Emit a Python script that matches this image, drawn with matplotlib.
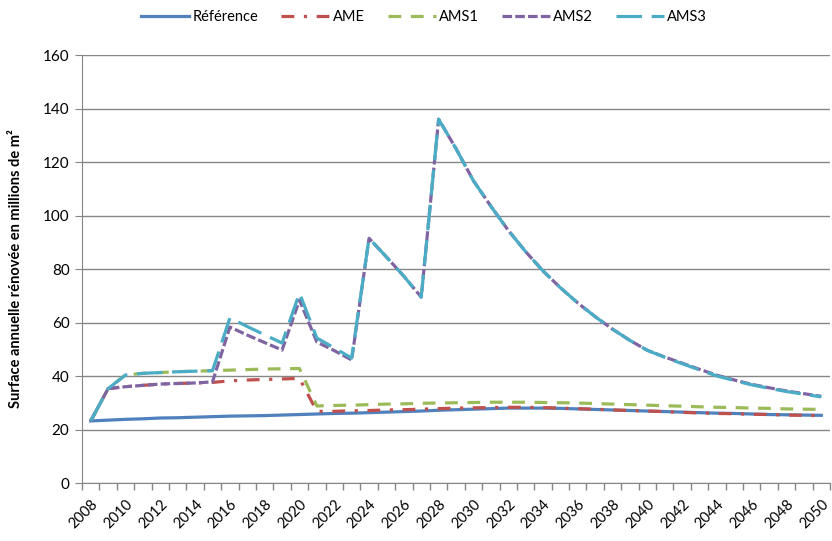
import matplotlib
matplotlib.use("Agg")
import matplotlib.pyplot as plt
import numpy as np

plt.rcParams['font.family'] = ['Lato', 'DejaVu Sans']

years = list(range(2008, 2051))

reference = [23.2, 23.5, 23.8, 24.0, 24.3, 24.4, 24.6, 24.8, 25.0, 25.1,
             25.2, 25.4, 25.6, 25.8, 26.0, 26.1, 26.3, 26.5, 26.7, 26.9,
             27.2, 27.4, 27.6, 27.8, 28.0, 28.0, 28.0, 27.9, 27.7, 27.5,
             27.3, 27.1, 26.9, 26.7, 26.5, 26.3, 26.1, 26.0, 25.8, 25.6,
             25.5, 25.4, 25.3]

ame = [23.2, 35.3, 36.0, 36.5, 37.0, 37.2, 37.4, 37.6, 38.2, 38.5,
       38.7, 38.9, 39.1, 26.8, 26.8, 27.0, 27.1, 27.3, 27.4, 27.6,
       27.8, 28.0, 28.1, 28.2, 28.3, 28.3, 28.2, 28.0, 27.8, 27.6,
       27.3, 27.1, 26.9, 26.7, 26.4, 26.2, 26.0, 25.9, 25.7, 25.6,
       25.4, 25.3, 25.2]

ams1 = [23.2, 35.3, 40.4, 41.0, 41.3, 41.6, 41.8, 42.0, 42.2, 42.4,
        42.6, 42.7, 42.8, 28.8, 29.0, 29.1, 29.3, 29.5, 29.6, 29.8,
        29.9, 30.0, 30.1, 30.2, 30.2, 30.2, 30.1, 30.0, 29.9, 29.7,
        29.5, 29.3, 29.1, 28.9, 28.7, 28.5, 28.3, 28.2, 28.0, 27.9,
        27.7, 27.6, 27.5]

ams2 = [23.2, 35.3, 36.0, 36.5, 37.0, 37.2, 37.4, 37.8, 58.3, 55.3,
        52.5, 49.7, 68.4, 52.7, 49.5, 46.0, 91.5, 84.5, 77.3, 69.5,
        136.0, 125.0, 113.0, 103.5, 94.5, 86.5, 79.3, 73.0, 67.3, 62.2,
        57.5, 53.3, 49.6, 47.1, 44.8, 42.5, 40.3, 38.5, 36.9, 35.6,
        34.4, 33.4, 32.4]

ams3 = [23.2, 35.3, 40.4, 41.0, 41.3, 41.6, 41.8, 42.0, 61.7, 58.5,
        55.4, 52.3, 71.0, 54.2, 50.5, 46.7, 91.5, 84.5, 77.3, 69.5,
        136.0, 125.0, 113.0, 103.5, 94.5, 86.5, 79.3, 73.0, 67.3, 62.2,
        57.5, 53.3, 49.6, 47.0, 44.6, 42.3, 40.0, 38.3, 36.7, 35.4,
        34.2, 33.2, 32.2]

fig = plt.figure(figsize=(8.32, 5.41), dpi=100)
ax = fig.add_axes([0.0986, 0.1072, 0.899, 0.7911])

x = np.arange(len(years))
lw = 2.3
ax.plot(x, reference, color='#4F81BD', lw=lw, label='Référence', zorder=3)
ax.plot(x, ame, color='#C0504D', lw=lw, dashes=(4, 3, 1, 3), label='AME', zorder=4)
ax.plot(x, ams1, color='#9BBB59', lw=lw, dashes=(4, 3), label='AMS1', zorder=4)
ax.plot(x, ams2, color='#8064A2', lw=lw, dashes=(3, 1), label='AMS2', zorder=5)
ax.plot(x, ams3, color='#4BACC6', lw=lw, dashes=(8, 3), label='AMS3', zorder=6)

ax.set_xlim(-0.5, len(years) - 0.5)
ax.set_ylim(0, 160)
ax.set_yticks(range(0, 161, 20))
ax.yaxis.grid(True, color='#868686', lw=1)
ax.set_axisbelow(True)

ax.set_xticks(x[::2])
ax.set_xticklabels([str(y) for y in years[::2]], rotation=45, ha='right',
                   rotation_mode='anchor', fontsize=10.5)
ax.set_xticks(np.arange(-0.5, len(years), 1), minor=True)
ax.tick_params(axis='x', which='major', length=0, pad=10)
ax.tick_params(axis='x', which='minor', length=5, color='#868686', width=1)
ax.tick_params(axis='y', length=5, color='#868686', labelsize=11, pad=4)

for s in ['top', 'right']:
    ax.spines[s].set_visible(False)
for s in ['left', 'bottom']:
    ax.spines[s].set_color('#868686')

ax.set_ylabel('Surface annuelle rénovée en millions de m²', fontsize=10.5,
              fontweight='bold', labelpad=14)

fig.legend(loc='upper center', bbox_to_anchor=(0.51, 1.005), ncol=5, frameon=False,
           fontsize=10.5, handlelength=3.3, columnspacing=1.6, handletextpad=0.2)

fig.savefig('out.png', dpi=100)
